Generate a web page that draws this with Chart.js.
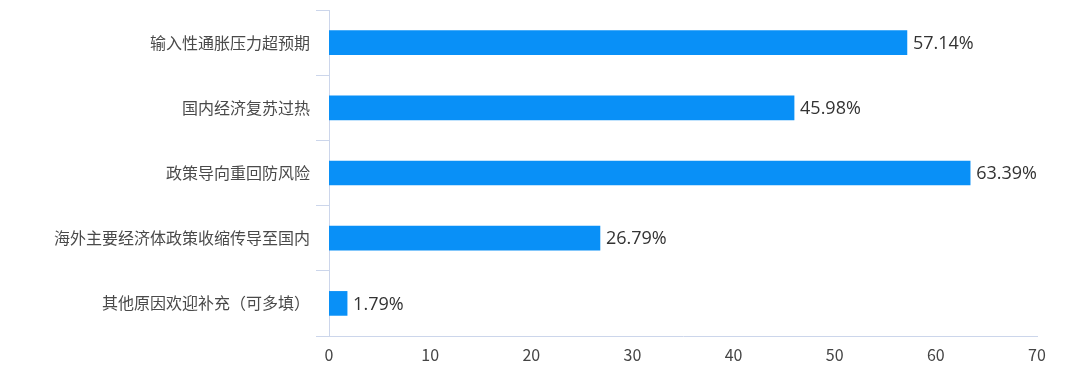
<!DOCTYPE html>
<html>
<head>
<meta charset="utf-8">
<script src="https://cdn.jsdelivr.net/npm/chart.js@4/dist/chart.umd.min.js"></script>
<style>
html,body{margin:0;padding:0;background:#fff;}
#wrap{width:1070px;height:380px;position:relative;}
</style>
</head>
<body>
<div id="wrap"><canvas id="c" width="1070" height="380"></canvas></div>
<script>
const categories = ['输入性通胀压力超预期','国内经济复苏过热','政策导向重回防风险','海外主要经济体政策收缩传导至国内','其他原因欢迎补充（可多填）'];
const values = [57.14, 45.98, 63.39, 26.79, 1.79];
const xTicks = [0, 10, 20, 30, 40, 50, 60, 70];

const FONT = '"Noto Sans CJK SC", "Open Sans", sans-serif';

const valueLabels = {
  id: 'valueLabels',
  afterDatasetsDraw(chart) {
    const ctx = chart.ctx;
    const meta = chart.getDatasetMeta(0);
    ctx.save();
    ctx.font = '18px "Open Sans", "Noto Sans CJK SC", sans-serif';
    ctx.fillStyle = '#333333';
    ctx.textAlign = 'left';
    ctx.textBaseline = 'middle';
    meta.data.forEach((bar, i) => {
      ctx.fillText(values[i].toFixed(2) + '%', bar.x + 6, bar.y + 1);
    });
    ctx.restore();
  }
};

new Chart(document.getElementById('c'), {
  type: 'bar',
  data: {
    labels: categories,
    datasets: [{
      data: values,
      backgroundColor: '#0990f7',
      borderWidth: 0,
      barThickness: 24
    }]
  },
  options: {
    indexAxis: 'y',
    responsive: false,
    animation: false,
    layout: { padding: { top: 10, right: 33, left: 0, bottom: 0 } },
    plugins: { legend: { display: false }, tooltip: { enabled: false } },
    scales: {
      x: {
        min: 0, max: 70,
        afterBuildTicks(scale) { scale.ticks = xTicks.map(v => ({ value: v })); },
        afterFit(scale) { scale.height = 44; },
        grid: { display: false, drawTicks: false },
        border: { display: true, color: '#ccd6eb', width: 1 },
        ticks: { color: '#444444', font: { family: FONT, size: 16 }, padding: 9 }
      },
      y: {
        offset: true,
        afterFit(scale) { scale.width = 329; scale.paddingTop = 0; scale.paddingBottom = 0; },
        grid: { display: true, drawOnChartArea: false, drawTicks: true, tickLength: 13, offset: true, color: '#ccd6eb' },
        border: { display: true, color: '#ccd6eb', width: 1 },
        ticks: { color: '#4a4a4a', font: { family: FONT, size: 16 }, padding: 6 }
      }
    }
  },
  plugins: [valueLabels]
});
</script>
</body>
</html>
